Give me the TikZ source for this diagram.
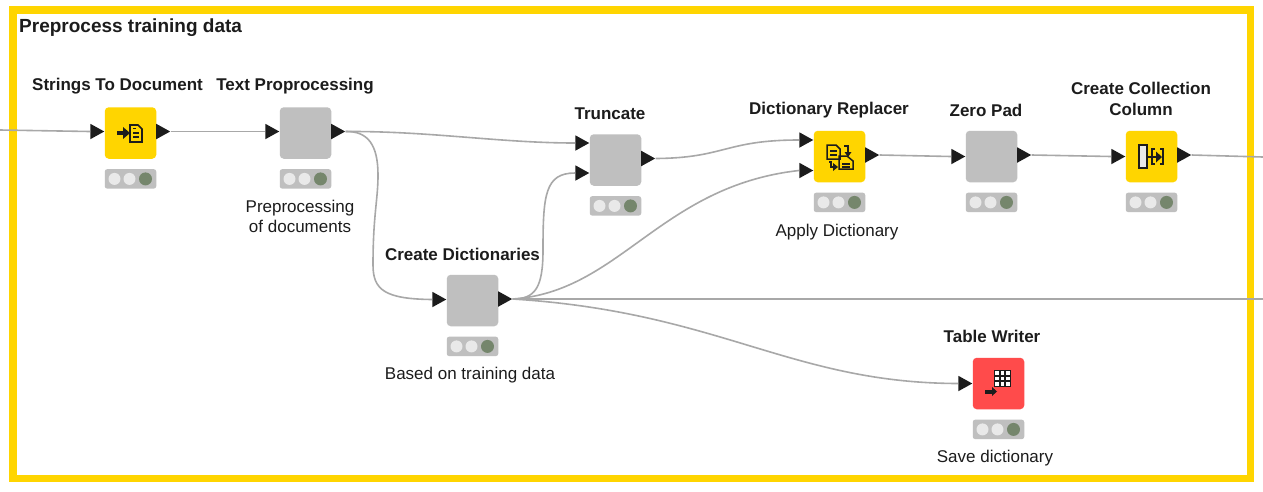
\documentclass[tikz,border=0pt]{standalone}
\usepackage{fontspec}
\setmainfont{Liberation Sans}
\usetikzlibrary{shapes.geometric,calc}
\definecolor{kyellow}{HTML}{FFD500}
\definecolor{kgray}{HTML}{BFBFBF}
\definecolor{kred}{HTML}{FF4B4B}
\definecolor{kline}{HTML}{A8A8A8}
\definecolor{kgreen}{HTML}{75866C}
\definecolor{kdark}{HTML}{1C1C1C}
\definecolor{klamp}{HTML}{E9E9E9}
\tikzset{
  x=1pt,y=-1pt,
  kbox/.style={minimum width=51.5pt,minimum height=51.5pt,inner sep=0pt,rounded corners=4pt,draw=none},
  light/.style={fill=kgray,minimum width=51.5pt,minimum height=19.5pt,inner sep=0pt,rounded corners=2.5pt},
  lamp/.style={circle,inner sep=0pt,minimum size=12pt},
  port/.style={isosceles triangle,isosceles triangle apex angle=54,isosceles triangle stretches,fill=kdark,inner sep=0pt,minimum width=15.5pt,minimum height=14pt,anchor=west},
  wire/.style={draw=kline,line width=1.6pt},
  head/.style={font=\fontsize{17}{21}\selectfont\bfseries,align=center,text=kdark,inner sep=0pt},
  note/.style={font=\fontsize{17}{20}\selectfont,align=center,text=kdark,inner sep=0pt},
  ico/.style={draw=kdark,line width=1.7pt,line join=miter},
}
% name, x center, y center, colour
\newcommand{\knode}[4]{%
  \node[kbox,fill=#4] (#1) at (#2,#3) {};
  \node[light,anchor=north] (#1-l) at ($(#1.south)+(0,10)$) {};
  \node[lamp,fill=klamp] (#1-a) at ($(#1-l.center)+(-16,0)$) {};
  \node[lamp,fill=klamp] (#1-b) at ($(#1-l.center)+(-1,0)$) {};
  \node[lamp,fill=kgreen,minimum size=13pt] (#1-c) at ($(#1-l.center)+(15,0)$) {};
}
\newcommand{\kout}[1]{\node[port] (#1-o) at ($(#1.east)+(-0.5,-1.5)$) {};}
\newcommand{\kin}[3]{\node[port] (#1) at ($(#2.west)+(-14.5,#3)$) {};}
\begin{document}
\begin{tikzpicture}
\useasboundingbox (0,0) rectangle (1263,491);
\fill[white] (0,0) rectangle (1263,491);
\draw[kyellow,line width=7.5pt] (13,10) rectangle (1250.5,478.3);
\node[head,anchor=west,font=\fontsize{19}{22}\selectfont\bfseries] (title) at (19,27.5) {Preprocess training data};

\coordinate (lfree) at (0,130);
\coordinate (rfreeA) at (1263,157);
\coordinate (rfreeB) at (1263,299);

\knode{s2d}{130.5}{133}{kyellow}
\knode{tpp}{305.5}{133}{kgray}
\knode{trc}{615.5}{160}{kgray}
\knode{drp}{839.5}{156.5}{kyellow}
\knode{zpd}{991.5}{156.5}{kgray}
\knode{ccc}{1151.5}{156.5}{kyellow}
\knode{cdc}{472.5}{300.5}{kgray}
\knode{twr}{998.5}{383.5}{kred}

\kout{s2d}\kout{tpp}\kout{trc}\kout{drp}\kout{zpd}\kout{ccc}\kout{cdc}
\kin{s2d-i}{s2d}{-1.5}
\kin{tpp-i}{tpp}{-1.5}
\kin{trc-i}{trc}{-17}
\kin{trc-j}{trc}{13}
\kin{drp-i}{drp}{-16.5}
\kin{drp-j}{drp}{14}
\kin{zpd-i}{zpd}{0}
\kin{ccc-i}{ccc}{0}
\kin{cdc-i}{cdc}{-1}
\kin{twr-i}{twr}{0}

\draw[wire] (lfree) -- (s2d-i.west);
\draw[wire] (s2d-o.apex) -- (tpp-i.west);
\draw[wire] (tpp-o.apex) .. controls (430,131) and (500,143) .. (trc-i.west);
\draw[wire] (tpp-o.apex) .. controls (368,131) and (378,145) .. (378,175) .. controls (378,200) and (373,215) .. (373,265) .. controls (373,290) and (385,299) .. (cdc-i.west);
\draw[wire] (cdc-o.apex) .. controls (535,299) and (543,288) .. (543,250) .. controls (543,195) and (545,173) .. (trc-j.west);
\draw[wire] (cdc-o.apex) .. controls (620,292) and (660,186) .. (drp-j.west);
\draw[wire] (cdc-o.apex) -- (rfreeB);
\draw[wire] (cdc-o.apex) .. controls (720,312) and (790,383) .. (twr-i.west);
\draw[wire] (trc-o.apex) .. controls (725,158) and (725,140) .. (drp-i.west);
\draw[wire] (drp-o.apex) -- (zpd-i.west);
\draw[wire] (zpd-o.apex) -- (ccc-i.west);
\draw[wire] (ccc-o.apex) -- (rfreeA);

% labels
\node[head] (l1) at (117.5,86) {Strings To Document};
\node[head] (l2) at (295,86) {Text Proprocessing};
\node[head] (l3) at (610,114) {Truncate};
\node[head] (l4) at (829,110) {Dictionary Replacer};
\node[head] (l5) at (986,110) {Zero Pad};
\node[head] (l6) at (1141,99) {Create Collection\\Column};
\node[head] (l7) at (462.5,254) {Create Dictionaries};
\node[head] (l8) at (992,336) {Table Writer};
\node[note] (n1) at (300,216) {Preprocessing\\of documents};
\node[note] (n2) at (837,232) {Apply Dictionary};
\node[note] (n3) at (470,375) {Based on training data};
\node[note] (n4) at (995,458) {Save dictionary};

% icon: strings to document
\fill[kdark] (117,131) rectangle (125,135);
\fill[kdark] (123,127) -- (130,133) -- (123,139) -- cycle;
\draw[ico] (130,125) -- (138,125) -- (142,129) -- (142,142) -- (130,142) -- cycle;
\draw[ico,line width=1.2pt] (133,133) -- (139,133) (133,137) -- (139,137) (133,128.5) -- (136,128.5);

% icon: dictionary replacer
\draw[ico,line width=1.5pt] (827,145) -- (836,145) -- (840,149) -- (840,159) -- (827,159) -- cycle;
\draw[ico,line width=1.5pt] (839,156) -- (847,156) -- (853,161) -- (853,169) -- (839,169) -- cycle;
\draw[ico,line width=1.2pt] (830,151) -- (837,151) (830,155) -- (837,155) (842,164) -- (850,164) (842,167) -- (850,167);
\draw[ico,line width=1.5pt] (844,146) -- (848,146) -- (848,153);
\fill[kdark] (844.5,152) -- (851.5,152) -- (848,157) -- cycle;
\draw[ico,line width=1.5pt] (829,162) -- (831,162) -- (831,167) -- (834,167);
\fill[kdark] (833,163) -- (838,167) -- (833,171) -- cycle;

% icon: collection
\fill[klamp] (1139,145) rectangle (1147,168);
\draw[ico] (1139,145) rectangle (1147,168);
\draw[kdark,line width=2.2pt] (1147,157) -- (1158,157);
\fill[kdark] (1156,151.5) -- (1162,157) -- (1156,162.5) -- cycle;
\draw[ico] (1155,149) -- (1152,149) -- (1152,164) -- (1155,164);
\draw[ico] (1160,149) -- (1163,149) -- (1163,164) -- (1160,164);

% icon: table writer
\fill[kdark] (985,390) rectangle (993,393.5);
\fill[kdark] (992,387) -- (997,391.5) -- (992,396) -- cycle;
\fill[kdark] (994,370) rectangle (1011,387);
\foreach \i in {0,1,2}{\foreach \j in {0,1,2}{
  \fill[white] ({995.3+5.2*\i},{371.3+5.2*\j}) rectangle ++(3.9,3.9);}}
\end{tikzpicture}
\end{document}
